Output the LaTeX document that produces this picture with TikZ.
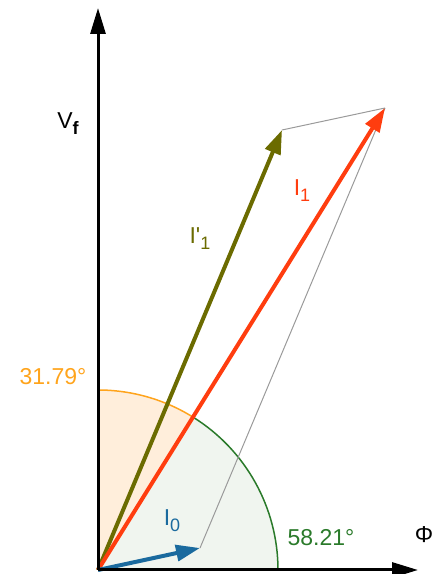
\documentclass[tikz,border=0pt]{standalone}
\usepackage{fontspec}
\setmainfont{Liberation Sans}
\usetikzlibrary{arrows.meta}
\definecolor{axisC}{HTML}{000000}
\definecolor{blueV}{HTML}{1A6A9E}
\definecolor{oliveV}{HTML}{6B6B00}
\definecolor{redV}{HTML}{FF3D0F}
\definecolor{orangeT}{HTML}{FFA41C}
\definecolor{greenT}{HTML}{2A7A2A}
\definecolor{orangeF}{HTML}{FFEEDB}
\definecolor{greenF}{HTML}{F0F5EF}
\definecolor{greyL}{HTML}{9A9A9A}
\newcommand{\sbs}[1]{{\fontsize{18}{18}\selectfont\raisebox{-6pt}{#1}}}
\begin{document}
\begin{tikzpicture}[x=1pt,y=1pt,
  lbl/.style={font=\fontsize{23}{25}\selectfont, inner sep=0pt},
  axisline/.style={line width=3pt, -{Triangle[length=26pt,width=15pt]}},
  vec/.style={line width=4pt, -{Triangle[length=24pt,width=16pt]}},
  guide/.style={line width=1pt, draw=greyL}]
\useasboundingbox (0,0) rectangle (440,574);
\coordinate (O) at (98,4);
\coordinate (Ytop) at (98,566);
\coordinate (Xend) at (418,4);
\coordinate (T0) at (200,26);
\coordinate (T1p) at (282,444);
\coordinate (T1) at (385,466);
% sectors
\fill[orangeF] (O) -- ++(58.21:180) arc[start angle=58.21,end angle=90,radius=180] -- cycle;
\fill[greenF] (O) -- ++(0:180) arc[start angle=0,end angle=58.21,radius=180] -- cycle;
\draw[orangeT, line width=1.5pt] (O) ++(58.21:180) arc[start angle=58.21,end angle=90,radius=180];
\draw[greenT, line width=1.5pt] (O) ++(0:180) arc[start angle=0,end angle=58.21,radius=180];
% guides
\draw[guide] (T0) -- (T1);
\draw[guide] (T1p) -- (T1);
% vectors
\draw[vec, draw=oliveV, fill=oliveV] (O) -- (T1p);
\draw[vec, draw=redV, fill=redV] (O) -- (T1);
\draw[vec, draw=blueV, fill=blueV] (O) -- (T0);
% axes
\draw[axisline] (O) -- (Ytop);
\draw[axisline] (O) -- (Xend);
% labels
\node[lbl, text=orangeT] (a1) at (53,197) {31.79°};
\node[lbl, text=greenT] (a2) at (321,36) {58.21°};
\node[lbl] (phi) at (424,39) {Φ};
\node[lbl] (vf) at (68,450) {V\sbs{\textbf{f}}};
\node[lbl, text=blueV] (i0) at (172,53) {I\sbs{0}};
\node[lbl, text=oliveV] (i1p) at (200,335) {I\textquotesingle\sbs{1}};
\node[lbl, text=redV] (i1) at (302,383) {I\sbs{1}};
\end{tikzpicture}
\end{document}
